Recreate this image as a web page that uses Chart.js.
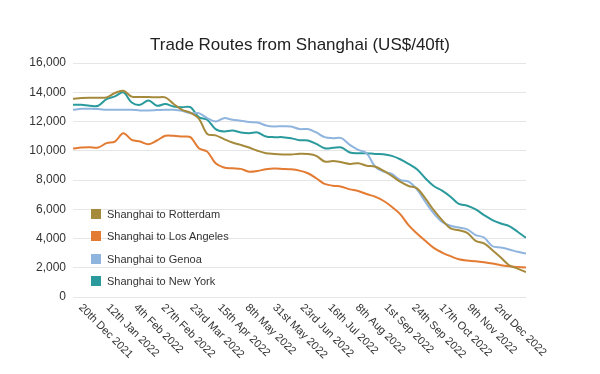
<!DOCTYPE html>
<html>
<head>
<meta charset="utf-8">
<script src="https://cdn.jsdelivr.net/npm/chart.js@4.4.0/dist/chart.umd.min.js"></script>
<style>
  html, body { margin: 0; padding: 0; background: #fff; }
  #wrap { position: relative; width: 600px; height: 374px; }
  #title { position: absolute; left: 0; top: 35px; width: 600px; text-align: center; line-height: 20px;
    font: 17px "Liberation Sans", Arial, sans-serif; color: #222; }
  #legend { position: absolute; left: 91px; top: 203px; font: 11px "Liberation Sans", Arial, sans-serif; color: #333; }
  #legend .item { display: flex; align-items: center; height: 22.3px; }
  #legend .box { width: 10px; height: 10px; margin-right: 6px; }
</style>
</head>
<body>
<div id="wrap">
  <canvas id="myChart" width="600" height="374"></canvas>
  <div id="title">Trade Routes from Shanghai (US$/40ft)</div>
  <div id="legend"></div>
</div>
<script>
// weekly readings, first week = 9 Dec 2021
const startDate = '2021-12-09';

const rotterdam = [13550, 13600, 13620, 13620, 13650, 13950, 14100, 13700, 13680, 13680,
  13650, 13650, 13200, 12800, 12600, 12200, 11150, 11050, 10800, 10560,
  10400, 10220, 10000, 9830, 9780, 9750, 9740, 9800, 9780, 9650,
  9260, 9300, 9210, 9100, 9140, 8980, 8920, 8640, 8280, 7890,
  7590, 7430, 6740, 5940, 5260, 4690, 4570, 4390, 3840, 3660,
  3200, 2700, 2170, 1940, 1710];

const losAngeles = [10150, 10220, 10240, 10220, 10520, 10630, 11200, 10740, 10630, 10450,
  10700, 11020, 11020, 10970, 10930, 10170, 9940, 9140, 8850, 8800,
  8760, 8570, 8620, 8730, 8780, 8760, 8730, 8640, 8460, 8120,
  7730, 7610, 7540, 7360, 7250, 7040, 6860, 6580, 6170, 5670,
  4910, 4340, 3840, 3360, 3040, 2790, 2580, 2490, 2450, 2380,
  2290, 2170, 2100, 2060, 2010];

const genoa = [12800, 12870, 12870, 12850, 12800, 12800, 12800, 12800, 12760, 12760,
  12780, 12800, 12800, 12730, 12570, 12570, 12230, 12000, 12230, 12120,
  12050, 11960, 11930, 11730, 11660, 11680, 11660, 11480, 11480, 11250,
  10930, 10860, 10860, 10400, 10060, 9830, 8920, 8570, 8410, 8000,
  7890, 7360, 6510, 5720, 5140, 4870, 4750, 4620, 4230, 4070,
  3470, 3380, 3250, 3090, 2970];

const newYork = [13140, 13140, 13080, 13080, 13530, 13720, 13990, 13300, 13140, 13440,
  13080, 13190, 13030, 12980, 12980, 12300, 12120, 11480, 11320, 11380,
  11250, 11200, 11250, 10970, 10930, 10930, 10860, 10720, 10700, 10470,
  10170, 10200, 10220, 9880, 9830, 9830, 9780, 9760, 9650, 9420,
  9100, 8730, 8120, 7590, 7270, 6860, 6360, 6240, 5990, 5600,
  5260, 5030, 4850, 4460, 4050];

const tickDates = ['2021-12-20', '2022-01-12', '2022-02-04', '2022-02-27', '2022-03-23',
  '2022-04-15', '2022-05-08', '2022-05-31', '2022-06-23', '2022-07-16', '2022-08-08',
  '2022-09-01', '2022-09-24', '2022-10-17', '2022-11-09', '2022-12-02'];

const tickLabels = ['20th Dec 2021', '12th Jan 2022', '4th Feb 2022', '27th Feb 2022',
  '23rd Mar 2022', '15th Apr 2022', '8th May 2022', '31st May 2022', '23rd Jun 2022',
  '16th Jul 2022', '8th Aug 2022', '1st Sep 2022', '24th Sep 2022', '17th Oct 2022',
  '9th Nov 2022', '2nd Dec 2022'];

const seriesNames = ['Shanghai to Rotterdam', 'Shanghai to Los Angeles', 'Shanghai to Genoa', 'Shanghai to New York'];
const seriesColors = ['#a68a3c', '#e37b33', '#8fb5de', '#2a9a9c'];

const dayOf = d => (Date.parse(d) - Date.parse(startDate)) / 864e5;
const tickDays = tickDates.map(dayOf);
const toPoints = arr => arr.map((v, i) => ({ x: i * 7, y: v }));

const FONT = '"Liberation Sans", Arial, sans-serif';

// rotated date labels, running down to the right
const dateLabels = {
  id: 'dateLabels',
  afterDraw(chart) {
    const c = chart.ctx;
    const xs = chart.scales.x;
    c.save();
    c.font = '11px ' + FONT;
    c.fillStyle = '#333';
    c.textAlign = 'left';
    c.textBaseline = 'top';
    tickDays.forEach((d, i) => {
      c.save();
      c.translate(xs.getPixelForValue(d) - 2, chart.chartArea.bottom + 5);
      c.rotate(Math.PI / 4);
      c.fillText(tickLabels[i], 0, 0);
      c.restore();
    });
    c.restore();
  }
};

const ctx = document.getElementById('myChart').getContext('2d');

const datasets = [rotterdam, losAngeles, genoa, newYork].map((arr, i) => ({
  label: seriesNames[i],
  data: toPoints(arr),
  borderColor: seriesColors[i],
  backgroundColor: seriesColors[i],
  borderWidth: 2,
  pointRadius: 0,
  tension: 0.35
}));

const myChart = new Chart(ctx, {
  type: 'line',
  data: { datasets },
  options: {
    responsive: false,
    animation: false,
    layout: { padding: { left: 0, right: 74, top: 63, bottom: 77 } },
    plugins: {
      legend: { display: false },
      tooltip: { enabled: false },
      title: { display: false }
    },
    scales: {
      x: {
        type: 'linear',
        display: false,
        min: 0,
        max: (rotterdam.length - 1) * 7
      },
      y: {
        min: 0,
        max: 16000,
        afterFit: s => { s.width = 73; },
        grid: { color: '#e6e6e6', drawTicks: false },
        border: { display: false },
        ticks: {
          stepSize: 2000,
          padding: 7,
          color: '#333',
          font: { family: FONT, size: 12 },
          callback: v => v.toLocaleString('en-US')
        }
      }
    }
  },
  plugins: [dateLabels]
});

// legend sits inside the plot, lower left
const legendEl = document.getElementById('legend');
seriesNames.forEach((name, i) => {
  const item = document.createElement('div');
  item.className = 'item';
  item.innerHTML = '<span class="box" style="background:' + seriesColors[i] + '"></span><span>' + name + '</span>';
  legendEl.appendChild(item);
});
</script>
</body>
</html>
